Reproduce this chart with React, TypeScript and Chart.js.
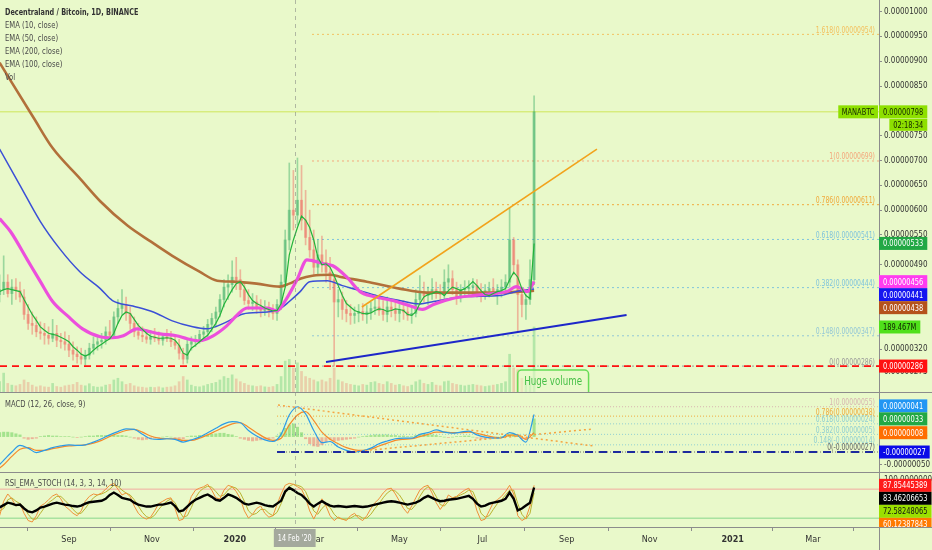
import React, { useEffect, useRef } from "react";
import { Chart, registerables } from "chart.js";

Chart.register(...registerables);

const FONT = "'DejaVu Sans Condensed', 'DejaVu Sans', 'Liberation Sans', sans-serif";
const BG = "#e9f9ca";
const SX = 0.8; // horizontal compression used for hand-drawn text (mimics a narrow UI font)

// ---------- text ----------
const TITLE = "Decentraland / Bitcoin, 1D, BINANCE";
const legendItems = ["EMA (10, close)", "EMA (50, close)", "EMA (200, close)", "EMA (100, close)", "Vol"];
const MACD_TITLE = "MACD (12, 26, close, 9)";
const RSI_TITLE = "RSI_EMA_STOCH (14, 3, 3, 14, 10)";
const SYMBOL = "MANABTC";
const COUNTDOWN = "02:18:34";
const ANNOTATION_TEXT = "Huge volume";

// ---------- time axis (days relative to 1 Sep 2019) ----------
const X_MIN = -50.7;
const X_MAX = 595.6;
const tickDays = [0, 61, 122, 182, 243, 304, 366, 427, 488, 547];
const tickLabels = ["Sep", "Nov", "2020", "Mar", "May", "Jul", "Sep", "Nov", "2021", "Mar"];
const crosshairDay = 166;
const crosshairLabel = "14 Feb '20";

// ---------- candles (satoshi), one every 3 days ----------
const CANDLE_START = -51;
const CANDLE_STEP = 3;
const cOpen = [
  430, 440, 455, 432, 445, 438, 425, 390, 372, 368, 355, 352,
  348, 342, 352, 338, 335, 330, 318, 310, 305, 300, 308, 322,
  330, 335, 338, 355, 348, 385, 402, 410, 392, 372, 355, 348,
  345, 340, 345, 342, 338, 345, 342, 335, 328, 312, 300, 330,
  335, 340, 350, 355, 370, 382, 395, 420, 445, 450, 465, 460,
  440, 418, 412, 415, 405, 398, 402, 395, 392, 410, 455, 540,
  600, 590, 620, 580, 545, 520, 485, 510, 495, 475, 460, 415,
  420, 400, 392, 388, 392, 396, 390, 395, 402, 405, 398, 390,
  405, 398, 392, 400, 395, 388, 392, 420, 435, 428, 432, 440,
  435, 430, 455, 462, 440, 425, 440, 442, 445, 448, 435, 430,
  438, 442, 435, 440, 445, 455, 540, 490, 430, 410, 420, 460,
];
const cHigh = [
  470, 508, 470, 460, 462, 455, 440, 410, 395, 385, 375, 372,
  365, 380, 368, 352, 355, 348, 335, 325, 322, 318, 332, 345,
  348, 352, 365, 378, 395, 420, 440, 425, 405, 385, 372, 365,
  360, 358, 362, 355, 352, 360, 356, 348, 340, 322, 340, 345,
  348, 358, 366, 380, 392, 405, 430, 460, 470, 498, 505, 480,
  455, 440, 432, 428, 420, 418, 415, 410, 420, 470, 560, 695,
  680, 705, 690, 640, 600, 560, 540, 548, 520, 505, 470, 440,
  435, 418, 410, 405, 410, 412, 408, 415, 430, 422, 418, 425,
  420, 415, 410, 418, 412, 405, 440, 468, 455, 445, 462, 455,
  450, 480, 490, 478, 455, 450, 458, 458, 462, 460, 452, 450,
  455, 462, 450, 460, 470, 604, 545, 500, 445, 430, 500, 830,
];
const cLow = [
  415, 430, 425, 410, 420, 415, 380, 360, 350, 345, 340, 330,
  330, 335, 325, 322, 318, 305, 298, 292, 290, 288, 300, 310,
  318, 322, 330, 340, 345, 372, 390, 378, 360, 345, 340, 335,
  332, 330, 335, 330, 328, 335, 325, 320, 300, 290, 292, 318,
  325, 332, 338, 345, 355, 365, 385, 405, 420, 435, 440, 425,
  410, 400, 398, 392, 385, 388, 385, 380, 378, 400, 445, 520,
  560, 570, 560, 530, 505, 470, 470, 475, 455, 440, 286, 385,
  380, 375, 370, 372, 375, 378, 372, 380, 390, 388, 378, 375,
  385, 378, 375, 380, 378, 372, 385, 410, 415, 410, 420, 422,
  418, 420, 440, 430, 410, 415, 425, 430, 428, 425, 415, 420,
  425, 428, 410, 425, 430, 445, 470, 355, 385, 380, 410, 450,
];
const cClose = [
  440, 455, 432, 445, 438, 425, 390, 372, 368, 355, 352, 348,
  342, 352, 338, 335, 330, 318, 310, 305, 300, 308, 322, 330,
  335, 338, 355, 348, 385, 402, 410, 392, 372, 355, 348, 345,
  340, 345, 342, 338, 345, 342, 335, 328, 312, 300, 330, 335,
  340, 350, 355, 370, 382, 395, 420, 445, 450, 465, 460, 440,
  418, 412, 415, 405, 398, 402, 395, 392, 410, 455, 540, 600,
  590, 620, 580, 545, 520, 485, 510, 495, 475, 460, 415, 420,
  400, 392, 388, 392, 396, 390, 395, 402, 405, 398, 390, 405,
  398, 392, 400, 395, 388, 392, 420, 435, 428, 432, 440, 435,
  430, 455, 462, 440, 425, 440, 442, 445, 448, 435, 430, 438,
  442, 435, 440, 445, 455, 540, 490, 430, 410, 420, 460, 798,
];
// volume in millions
const volumeM = [
  30, 55, 25, 20, 18, 22, 35, 28, 20, 15, 18, 15,
  14, 25, 16, 14, 18, 20, 22, 28, 20, 18, 24, 16,
  14, 15, 20, 22, 35, 40, 30, 22, 25, 18, 15, 14,
  12, 14, 13, 15, 12, 14, 15, 18, 30, 45, 35, 20,
  16, 15, 18, 22, 25, 28, 35, 45, 40, 50, 38, 30,
  25, 20, 18, 16, 18, 15, 14, 16, 22, 45, 90, 95,
  70, 85, 60, 45, 40, 35, 30, 35, 30, 40, 70, 35,
  30, 25, 22, 20, 18, 22, 20, 28, 30, 25, 22, 30,
  25, 20, 22, 18, 16, 20, 30, 35, 25, 22, 28, 20,
  18, 30, 32, 25, 22, 20, 18, 20, 22, 20, 18, 16,
  18, 20, 22, 25, 30, 110, 70, 65, 40, 30, 45, 189.467,
];
const ema10 = [
  436, 440, 442, 440, 438, 436, 420, 405, 390, 378, 365, 358,
  352, 350, 348, 344, 340, 335, 325, 318, 310, 306, 310, 318,
  325, 330, 336, 341, 352, 372, 388, 395, 392, 380, 368, 360,
  352, 346, 344, 342, 342, 343, 342, 338, 328, 312, 308, 322,
  328, 335, 342, 348, 360, 372, 388, 410, 425, 440, 452, 456,
  445, 430, 418, 412, 408, 403, 400, 397, 398, 412, 445, 510,
  540, 565, 588, 580, 565, 540, 505, 490, 492, 485, 468, 448,
  428, 412, 405, 398, 395, 392, 391, 393, 398, 401, 400, 396,
  398, 401, 400, 398, 390, 388, 395, 412, 425, 430, 432, 436,
  434, 428, 438, 445, 442, 438, 442, 448, 456, 448, 438, 430,
  428, 432, 436, 438, 442, 460, 475, 465, 442, 428, 422, 533,
];

const ema50Days = [-51, -43, -31, -21, -12, -1, 10, 23, 32, 40, 50, 57, 67, 79, 87, 96, 106, 116, 126, 131, 146, 153, 160, 168, 175, 187, 194, 204, 214, 224, 238, 251, 260, 268, 282, 297, 312, 322, 329, 337, 342];
const ema50 = [583, 557, 502, 456, 416, 387, 361, 345, 343, 347, 361, 357, 351, 347, 341, 337, 347, 367, 395, 403, 403, 397, 422, 462, 500, 492, 488, 466, 436, 426, 418, 407, 400, 410, 422, 428, 432, 436, 446, 436, 456];
const ema100Days = [-51, -36, -21, -7, 8, 23, 32, 47, 62, 76, 91, 101, 116, 128, 146, 155, 162, 170, 177, 190, 201, 214, 229, 243, 258, 268, 293, 317, 329, 342];
const ema100 = [723, 650, 577, 523, 476, 442, 418, 407, 395, 377, 365, 361, 375, 391, 395, 401, 416, 436, 456, 458, 448, 438, 426, 418, 411, 416, 426, 428, 436, 441];
const ema200Days = [-51, -26, -12, 8, 23, 43, 60, 76, 96, 109, 121, 138, 155, 162, 170, 179, 192, 199, 219, 243, 263, 293, 317, 342];
const ema200 = [897, 786, 725, 664, 618, 569, 537, 508, 476, 458, 456, 452, 446, 452, 462, 468, 470, 466, 456, 442, 434, 434, 434, 438];

// fibonacci retracement (price pane)
const fibLevels = [0, 0.148, 0.382, 0.618, 0.786, 1, 1.618];
const fibValues = [286, 347, 444, 541, 611, 699, 954];
const FIB_START_DAY = 178.7;
// drawn trend lines
const orangeTrendDays = [215.4, 388.2];
const orangeTrendVals = [405, 723];
const blueTrendDays = [189, 410];
const blueTrendVals = [294, 389];
const supportLevel = 286;
const priceTicks = [1000, 950, 900, 850, 750, 700, 650, 600, 550, 490, 320, 275];
const annotationDay = 356;
const annotationValue = 278;

// ---------- MACD (units of 1e-8) ----------
const MACD_START = -54;
const MACD_STEP = 6;
const macdLine = [
  -58, -42, -27, -15, -20, -28, -24, -19, -16, -14, -15, -14,
  -9, -3, 4, 10, 15, 14, 5, -3, -4, -3, -4, -9,
  -5, 0, 8, 16, 24, 28, 26, 12, 2, -5, -8, 5,
  40, 55, 42, 12, -10, -8, -18, -24, -27, -25, -20, -12,
  -7, -3, -2, -2, 5, 8, 13, 9, 7, 9, 11, 4,
  0, -2, -1, 8, 3, -9, 41,
];
const macdSignal = [
  -62, -50, -35, -22, -19, -24, -24, -21, -18, -16, -15, -14,
  -11, -6, 1, 7, 12, 14, 9, 2, -2, -3, -3, -6,
  -6, -2, 4, 11, 18, 24, 26, 18, 8, -1, -6, -2,
  22, 40, 46, 30, 9, -4, -12, -19, -23, -24, -22, -16,
  -11, -6, -4, -3, 1, 5, 9, 9, 8, 8, 9, 7,
  3, 0, -1, 3, 4, -4, 8,
];
// histogram on the candle grid
const macdHist = [
  8, 9, 9, 8, 6, 4, -2, -4, -3, -2, 1, 2,
  3, 2, 2, 1, 1, 1, 0, -1, 0, 1, 2, 2,
  3, 3, 3, 3, 4, 3, 3, 2, 0, -2, -4, -5,
  -4, -3, -2, -1, 0, 1, 0, -2, -4, -3, 1, 2,
  2, 3, 3, 4, 5, 6, 7, 7, 5, 4, 1, -2,
  -4, -6, -7, -6, -5, -4, -3, -2, 2, 8, 16, 22,
  24, 18, 8, -3, -12, -16, -17, -14, -8, -5, -7, -6,
  -5, -4, -3, -2, 0, 1, 2, 3, 4, 4, 4, 4,
  3, 3, 2, 2, 1, 1, 3, 4, 5, 4, 4, 3,
  1, 0, -1, 0, 1, 1, 2, 2, 0, -2, -3, -3,
  -2, -1, 0, 1, 3, 5, 6, 2, -3, -4, -1, 33,
];
const macdFibLevels = [0, 0.148, 0.382, 0.618, 0.786, 1];
const macdFibValues = [-27, -14, 5, 24, 38, 55];
const MACD_FIB_START_DAY = 153;
const macdDescDays = [153.7, 385.3];
const macdDescVals = [58, -16];
const macdAscDays = [206.6, 385.3];
const macdAscVals = [-27, 14.7];
const macdLevel = -27;
const macdTicks = [-50, 0];

// ---------- RSI / stochastic (candle grid) ----------
const rsiBlack = [
  42, 47, 52, 50, 47, 48, 40, 34, 32, 36, 42, 44,
  47, 50, 52, 50, 48, 47, 45, 44, 46, 50, 53, 54,
  55, 56, 60, 68, 73, 68, 62, 60, 58, 52, 48, 46,
  44, 44, 46, 48, 48, 50, 52, 45, 34, 36, 44, 52,
  58, 62, 66, 69, 64, 58, 56, 62, 69, 66, 62, 56,
  50, 48, 50, 52, 50, 47, 45, 44, 50, 56, 75, 83,
  78, 72, 68, 60, 50, 44, 50, 55, 50, 46, 44, 45,
  44, 43, 44, 45, 44, 43, 44, 46, 48, 50, 52, 54,
  55, 54, 52, 50, 48, 50, 52, 56, 62, 66, 62, 58,
  55, 56, 58, 59, 60, 62, 64, 66, 60, 50, 44, 46,
  50, 52, 54, 56, 60, 73, 60, 36, 40, 46, 52, 83.46206653,
];
const stochK = [
  25, 55, 70, 60, 45, 50, 30, 15, 12, 25, 45, 50,
  58, 66, 70, 60, 45, 38, 30, 25, 35, 55, 65, 70,
  68, 72, 80, 88, 92, 80, 68, 72, 65, 45, 30, 22,
  18, 22, 35, 50, 55, 60, 62, 40, 15, 18, 40, 65,
  78, 82, 85, 90, 78, 62, 60, 78, 88, 85, 75, 60,
  35, 20, 28, 40, 45, 30, 22, 25, 48, 70, 88, 92,
  90, 85, 80, 62, 35, 18, 35, 60, 45, 25, 15, 22,
  18, 15, 25, 30, 20, 15, 25, 40, 52, 60, 72, 80,
  82, 70, 55, 40, 30, 45, 62, 78, 85, 88, 72, 52,
  38, 50, 68, 62, 65, 72, 78, 82, 65, 35, 15, 18,
  35, 52, 58, 65, 75, 88, 70, 25, 15, 20, 45, 87.85445389,
];
const stochD = [
  35, 40, 58, 62, 55, 50, 42, 28, 18, 18, 30, 42,
  52, 58, 65, 65, 57, 48, 38, 30, 30, 40, 52, 62,
  68, 70, 74, 80, 88, 86, 78, 72, 68, 58, 45, 32,
  23, 20, 26, 38, 48, 55, 60, 52, 35, 22, 25, 42,
  62, 75, 82, 86, 84, 75, 65, 68, 78, 85, 82, 72,
  55, 35, 27, 30, 38, 38, 30, 25, 32, 50, 72, 86,
  90, 88, 85, 75, 55, 35, 28, 40, 48, 42, 28, 20,
  18, 18, 20, 25, 25, 20, 20, 28, 40, 50, 62, 72,
  78, 76, 68, 55, 40, 38, 48, 65, 78, 85, 80, 65,
  48, 45, 55, 62, 64, 68, 72, 78, 75, 55, 30, 22,
  25, 38, 50, 58, 68, 78, 78, 50, 28, 18, 30, 72.58248065,
];
const rsiExtraLast = 60.12387843;
const rsiUpper = 80;
const rsiLower = 20;
const rsiTicks = [100];

// ---------- scale ranges ----------
const PRICE_MIN = 233.8, PRICE_MAX = 1023.2;
const MACD_MIN = -63.2, MACD_MAX = 81.7;
const RSI_MIN = 1.66, RSI_MAX = 115.5;
const VOL_MIN = -393.5, VOL_MAX = 1142.5;
const PANE_WEIGHTS = [392, 80, 55];

// ---------- colours ----------
const C = {
  up: "rgba(38,166,91,0.40)",
  down: "rgba(239,83,80,0.40)",
  volUp: "rgba(60,190,90,0.30)",
  volDown: "rgba(235,90,80,0.26)",
  ema10: "#22b33a",
  ema50: "#ec4fdc",
  ema100: "#3b4fd6",
  ema200: "#b2703a",
  orangeTrend: "#f2a31b",
  blueTrend: "#1d27c9",
  support: "#ff1010",
  priceLine: "#cfe65a",
  macd: "#2b9be8",
  signal: "#f58a2a",
  histUp: "rgba(95,205,80,0.5)",
  histDown: "rgba(240,110,100,0.5)",
  macdDots: "#f5a440",
  macdLevel: "#1c2a9e",
  stochK: "#f0903a",
  stochD: "#b9b431",
  rsi: "#000000",
  rsiUpper: "#f2aaa0",
  rsiLower: "#a8e2a0",
  axis: "#8c8c8c",
  text: "#333333",
};
const fibColors = ["#9a9a9a", "#93c7d6", "#80c4dc", "#80c4dc", "#f0a93a", "#f4a77c", "#f3c15f"];
const macdFibColors = ["#666666", "#8fcfd2", "#8fcfd2", "#8fcfd2", "#f0a93a", "#d8b4b0"];

const last = (a: number[]) => a[a.length - 1];
const fmt8 = (v: number) => (v * 1e-8).toFixed(8);
const candleX = (i: number) => CANDLE_START + i * CANDLE_STEP;
const isUp = (i: number) => cClose[i] >= cOpen[i];
const onGrid = (vals: number[], start: number, step: number) => vals.map((v, i) => ({ x: start + i * step, y: v }));
const onDays = (days: number[], vals: number[]) => vals.map((v, i) => ({ x: days[i], y: v }));
const hline = (x0: number, x1: number, y: number) => [{ x: x0, y }, { x: x1, y }];

function line(label: string, yAxisID: string, data: any[], color: string, width: number, order: number, extra: any = {}) {
  return {
    type: "line", label, yAxisID, data, borderColor: color, backgroundColor: color,
    borderWidth: width, pointRadius: 0, fill: false, tension: 0, order, ...extra,
  };
}

// narrow text helper: returns drawn width
function tw(ctx: any, s: string, sx = SX) {
  return ctx.measureText(s).width * sx;
}
function ntext(ctx: any, s: string, x: number, y: number, align = "left", sx = SX) {
  const w = tw(ctx, s, sx);
  const x0 = align === "left" ? x : align === "center" ? x - w / 2 : x - w;
  ctx.save();
  ctx.translate(x0, y);
  ctx.scale(sx, 1);
  ctx.textAlign = "left";
  ctx.fillText(s, 0, 0);
  ctx.restore();
  return w;
}

const LABEL_H = 13;

function stackLabels(items: any[]) {
  items.sort((a, b) => a.y - b.y);
  let ai = items.findIndex((it) => it.anchor);
  if (ai < 0) ai = 0;
  for (let i = ai + 1; i < items.length; i++) {
    const prev = items[i - 1];
    const gap = LABEL_H + (prev.countdown ? LABEL_H : 0);
    if (items[i].y < prev.y + gap) items[i].y = prev.y + gap;
  }
  for (let i = ai - 1; i >= 0; i--) {
    if (items[i].y > items[i + 1].y - LABEL_H) items[i].y = items[i + 1].y - LABEL_H;
  }
}

function valueLabels() {
  return {
    y: [
      { axis: "y", value: last(cClose), text: fmt8(last(cClose)), bg: "#8ee000", fg: "#142600", anchor: true, name: SYMBOL, countdown: COUNTDOWN },
      { axis: "y", value: last(ema10), text: fmt8(last(ema10)), bg: "#22a845", fg: "#ffffff" },
      { axis: "y", value: last(ema50), text: fmt8(last(ema50)), bg: "#ff3cf0", fg: "#ffffff" },
      { axis: "y", value: last(ema100), text: fmt8(last(ema100)), bg: "#1515f0", fg: "#ffffff" },
      { axis: "y", value: last(ema200), text: fmt8(last(ema200)), bg: "#b5521c", fg: "#ffffff" },
      { axis: "vol", value: last(volumeM), text: last(volumeM).toFixed(3) + "M", bg: "#4fe01a", fg: "#102000" },
      { axis: "y", value: supportLevel, text: fmt8(supportLevel), bg: "#ff1010", fg: "#ffffff" },
    ],
    macd: [
      { axis: "macd", value: last(macdLine), text: fmt8(last(macdLine)), bg: "#2196f3", fg: "#ffffff" },
      { axis: "macd", value: last(macdHist), text: fmt8(last(macdHist)), bg: "#22a845", fg: "#ffffff", anchor: true },
      { axis: "macd", value: last(macdSignal), text: fmt8(last(macdSignal)), bg: "#ff6d00", fg: "#ffffff" },
      { axis: "macd", value: macdLevel, text: fmt8(macdLevel), bg: "#0a0ae8", fg: "#ffffff" },
    ],
    rsi: [
      { axis: "rsi", value: last(stochK), text: last(stochK).toFixed(8), bg: "#ff1a1a", fg: "#ffffff", anchor: true },
      { axis: "rsi", value: last(rsiBlack), text: last(rsiBlack).toFixed(8), bg: "#000000", fg: "#ffffff" },
      { axis: "rsi", value: last(stochD), text: last(stochD).toFixed(8), bg: "#9be000", fg: "#111111" },
      { axis: "rsi", value: rsiExtraLast, text: rsiExtraLast.toFixed(8), bg: "#ff7a00", fg: "#ffffff" },
    ],
  };
}

const overlay = {
  id: "overlay",
  beforeDraw(chart: any) {
    const ctx = chart.ctx;
    ctx.save();
    ctx.fillStyle = BG;
    ctx.fillRect(0, 0, chart.width, chart.height);
    ctx.restore();
  },
  afterDatasetsDraw(chart: any) {
    const ctx = chart.ctx;
    const { x: xs, y: ys, macd } = chart.scales;
    const right = chart.chartArea.right;
    ctx.save();
    // fib labels
    ctx.font = `8.5px ${FONT}`;
    ctx.textBaseline = "bottom";
    fibLevels.forEach((lv, i) => {
      ctx.fillStyle = fibColors[i];
      ntext(ctx, `${lv}(${fmt8(fibValues[i])})`, right - 4, ys.getPixelForValue(fibValues[i]) + 0.5, "right");
    });
    macdFibLevels.forEach((lv, i) => {
      ctx.fillStyle = macdFibColors[i];
      ntext(ctx, `${lv}(${fmt8(macdFibValues[i])})`, right - 4, macd.getPixelForValue(macdFibValues[i]) + 0.5, "right");
    });
    // annotation
    ctx.save();
    ctx.beginPath();
    ctx.rect(0, ys.top, chart.width, ys.bottom - ys.top);
    ctx.clip();
    ctx.font = `11.5px ${FONT}`;
    const w = tw(ctx, ANNOTATION_TEXT, 0.84) + 13;
    const cx = xs.getPixelForValue(annotationDay);
    const top = ys.getPixelForValue(annotationValue);
    ctx.beginPath();
    ctx.roundRect(cx - w / 2, top, w, 28, 4);
    ctx.fillStyle = "rgba(233,249,202,0.55)";
    ctx.fill();
    ctx.strokeStyle = "#66dd55";
    ctx.lineWidth = 1.5;
    ctx.stroke();
    ctx.fillStyle = "#45bf45";
    ctx.textBaseline = "middle";
    ntext(ctx, ANNOTATION_TEXT, cx, top + 12, "center", 0.84);
    ctx.restore();
    // crosshair
    const chx = Math.round(xs.getPixelForValue(crosshairDay)) + 0.5;
    ctx.strokeStyle = "rgba(120,120,120,0.5)";
    ctx.lineWidth = 1;
    ctx.setLineDash([4, 4]);
    ctx.beginPath();
    ctx.moveTo(chx, chart.chartArea.top);
    ctx.lineTo(chx, chart.chartArea.bottom);
    ctx.stroke();
    ctx.setLineDash([]);
    ctx.restore();
  },
  afterDraw(chart: any) {
    const ctx = chart.ctx;
    const { x: xs, macd, rsi } = chart.scales;
    const W = chart.width;
    const axisX = chart.chartArea.right;
    ctx.save();
    // separators and axis lines
    ctx.strokeStyle = C.axis;
    ctx.lineWidth = 1;
    [macd.top, rsi.top, chart.chartArea.bottom].forEach((y: number) => {
      const yy = Math.round(y) + 0.5;
      ctx.beginPath();
      ctx.moveTo(0, yy);
      ctx.lineTo(W, yy);
      ctx.stroke();
    });
    ctx.beginPath();
    ctx.moveTo(Math.round(axisX) + 0.5, 0);
    ctx.lineTo(Math.round(axisX) + 0.5, chart.height);
    ctx.stroke();

    // value labels on the price axis
    const groups: any = valueLabels();
    ctx.font = `9.5px ${FONT}`;
    ctx.textBaseline = "middle";
    const LSX = 0.78;
    for (const pane of ["y", "macd", "rsi"]) {
      const ps = chart.scales[pane];
      const items = groups[pane].map((l: any) => ({ ...l, y: chart.scales[l.axis].getPixelForValue(l.value) }));
      stackLabels(items);
      ctx.save();
      ctx.beginPath();
      ctx.rect(0, ps.top, W, ps.bottom - ps.top);
      ctx.clip();
      for (const it of items) {
        const w = tw(ctx, it.text, LSX) + 8;
        ctx.fillStyle = it.bg;
        ctx.fillRect(axisX, it.y - LABEL_H / 2, w, LABEL_H);
        ctx.fillStyle = it.fg;
        ntext(ctx, it.text, axisX + 4, it.y + 0.5, "left", LSX);
        if (it.name) {
          const nw = tw(ctx, it.name, LSX) + 7;
          ctx.fillStyle = it.bg;
          ctx.fillRect(axisX - nw - 1, it.y - LABEL_H / 2, nw, LABEL_H);
          ctx.fillStyle = it.fg;
          ntext(ctx, it.name, axisX - 1 - nw / 2, it.y + 0.5, "center", LSX);
        }
        if (it.countdown) {
          const cw = tw(ctx, it.countdown, LSX) + 8;
          ctx.fillStyle = it.bg;
          ctx.fillRect(axisX + w - cw, it.y + LABEL_H / 2 + 0.5, cw, LABEL_H - 1);
          ctx.fillStyle = it.fg;
          ntext(ctx, it.countdown, axisX + w - cw / 2, it.y + LABEL_H + 0.5, "center", LSX);
        }
      }
      ctx.restore();
    }

    // legends
    ctx.textBaseline = "middle";
    ctx.font = `bold 9.5px ${FONT}`;
    ctx.fillStyle = "#333333";
    ntext(ctx, TITLE, 5, 12.5, "left", 0.76);
    ctx.font = `9.5px ${FONT}`;
    ctx.fillStyle = "#4a4a4a";
    legendItems.forEach((t, i) => ntext(ctx, t, 5, 25.5 + i * 12.9));
    ntext(ctx, MACD_TITLE, 5, macd.top + 13);
    ntext(ctx, RSI_TITLE, 5, rsi.top + 12);

    // crosshair date label
    ctx.font = `9px ${FONT}`;
    const chx = xs.getPixelForValue(crosshairDay);
    const lw = tw(ctx, crosshairLabel) + 8;
    ctx.fillStyle = "#a4a99d";
    ctx.fillRect(chx - lw / 2, chart.chartArea.bottom + 2, lw, 18);
    ctx.fillStyle = "#ffffff";
    ntext(ctx, crosshairLabel, chx, chart.chartArea.bottom + 11.5, "center");
    ctx.restore();
  },
};

function yAxis(weight: number, min: number, max: number, ticks: number[], fmt: (v: number) => string) {
  return {
    type: "linear", position: "right", stack: "panes", stackWeight: weight, min, max, bounds: "data", offset: false,
    afterBuildTicks: (s: any) => { s.ticks = ticks.map((v) => ({ value: v })); },
    afterFit: (s: any) => { s.width = 53; s.paddingTop = 0; s.paddingBottom = 0; },
    ticks: { autoSkip: false, padding: 2, color: C.text, font: { family: FONT, size: 8 }, callback: (v: any) => fmt(Number(v)) },
    grid: { drawOnChartArea: false, drawTicks: true, tickLength: 3, color: C.axis },
    border: { display: true, color: C.axis },
  };
}

export default function App() {
  const ref = useRef<HTMLCanvasElement>(null);
  useEffect(() => {
    const canvas = ref.current;
    if (!canvas) return;
    Chart.defaults.font.family = FONT;

    const wickData = cHigh.map((h, i) => ({ x: candleX(i), y: [cLow[i], h] }));
    const bodyData = cClose.map((c, i) => ({ x: candleX(i), y: [Math.min(c, cOpen[i]), Math.max(c, cOpen[i])] }));
    const candleColors = cClose.map((_, i) => (isUp(i) ? C.up : C.down));

    const datasets: any[] = [
      ...fibValues.map((v, i) =>
        line("fib" + fibLevels[i], "y", hline(FIB_START_DAY, X_MAX, v), fibColors[i], 1, 60, { borderDash: [2, 3] })
      ),
      ...macdFibValues.map((v, i) =>
        line("mfib" + macdFibLevels[i], "macd", hline(MACD_FIB_START_DAY, X_MAX, v), macdFibColors[i], 1, 60, { borderDash: [1, 2] })
      ),
      line("price", "y", hline(X_MIN, X_MAX, last(cClose)), C.priceLine, 1, 58),
      line("rsiUpper", "rsi", hline(X_MIN, X_MAX, rsiUpper), C.rsiUpper, 1, 58),
      line("rsiLower", "rsi", hline(X_MIN, X_MAX, rsiLower), C.rsiLower, 1.5, 58),
      {
        type: "bar", label: "Vol", yAxisID: "vol", data: onGrid(volumeM, CANDLE_START, CANDLE_STEP),
        backgroundColor: volumeM.map((_, i) => (isUp(i) ? C.volUp : C.volDown)), barThickness: 2, grouped: false, order: 50,
      },
      { type: "bar", label: "wick", yAxisID: "y", data: wickData, backgroundColor: candleColors, barThickness: 1, grouped: false, order: 45 },
      { type: "bar", label: "body", yAxisID: "y", data: bodyData, backgroundColor: candleColors, barThickness: 2.4, grouped: false, order: 44 },
      line("EMA200", "y", onDays(ema200Days, ema200), C.ema200, 2.6, 20, { cubicInterpolationMode: "monotone" }),
      line("EMA100", "y", onDays(ema100Days, ema100), C.ema100, 1.5, 19, { cubicInterpolationMode: "monotone" }),
      line("EMA50", "y", onDays(ema50Days, ema50), C.ema50, 3.2, 18, { cubicInterpolationMode: "monotone" }),
      line("EMA10", "y", onGrid(ema10, CANDLE_START, CANDLE_STEP), C.ema10, 1.2, 17),
      line("support", "y", hline(X_MIN, X_MAX, supportLevel), C.support, 1.8, 16, { borderDash: [7, 5] }),
      line("orangeTrend", "y", onDays(orangeTrendDays, orangeTrendVals), C.orangeTrend, 1.6, 15),
      line("blueTrend", "y", onDays(blueTrendDays, blueTrendVals), C.blueTrend, 2, 15),
      {
        type: "bar", label: "hist", yAxisID: "macd", data: onGrid(macdHist, CANDLE_START, CANDLE_STEP),
        backgroundColor: macdHist.map((v) => (v >= 0 ? C.histUp : C.histDown)), barThickness: 2.4, grouped: false, order: 40,
      },
      line("signal", "macd", onGrid(macdSignal, MACD_START, MACD_STEP), C.signal, 1.2, 12, { cubicInterpolationMode: "monotone" }),
      line("macd", "macd", onGrid(macdLine, MACD_START, MACD_STEP), C.macd, 1.2, 11, { cubicInterpolationMode: "monotone" }),
      line("macdDesc", "macd", onDays(macdDescDays, macdDescVals), C.macdDots, 1.5, 10, { borderDash: [2, 3] }),
      line("macdAsc", "macd", onDays(macdAscDays, macdAscVals), C.macdDots, 1.5, 10, { borderDash: [2, 3] }),
      line("macdLevel", "macd", hline(MACD_FIB_START_DAY, X_MAX, macdLevel), C.macdLevel, 2, 9, { borderDash: [8, 6] }),
      line("stochD", "rsi", onGrid(stochD, CANDLE_START, CANDLE_STEP), C.stochD, 1, 8),
      line("stochK", "rsi", onGrid(stochK, CANDLE_START, CANDLE_STEP), C.stochK, 1, 7),
      line("rsi", "rsi", onGrid(rsiBlack, CANDLE_START, CANDLE_STEP), C.rsi, 2.4, 6),
    ];

    const chart = new Chart(canvas, {
      type: "bar",
      data: { datasets },
      plugins: [overlay],
      options: {
        responsive: false,
        maintainAspectRatio: false,
        devicePixelRatio: 1,
        animation: false,
        events: [],
        layout: { padding: 0 },
        plugins: { legend: { display: false }, tooltip: { enabled: false } },
        scales: {
          x: {
            type: "linear", position: "bottom", min: X_MIN, max: X_MAX, offset: false, bounds: "data",
            afterBuildTicks: (s: any) => { s.ticks = tickDays.map((v) => ({ value: v })); },
            afterFit: (s: any) => { s.height = 23; s.paddingLeft = 0; s.paddingRight = 0; },
            ticks: {
              autoSkip: false, maxRotation: 0, padding: 3, color: C.text,
              font: (ctx: any) => ({ family: FONT, size: 9, weight: ctx.tick && /^\d{4}$/.test(String(ctx.tick.label)) ? "bold" : "normal" }),
              callback: (v: any) => { const i = tickDays.indexOf(Number(v)); return i >= 0 ? tickLabels[i] : ""; },
            },
            grid: { drawOnChartArea: false, drawTicks: true, tickLength: 4, color: C.axis },
            border: { display: true, color: C.axis },
          },
          y: yAxis(PANE_WEIGHTS[0], PRICE_MIN, PRICE_MAX, priceTicks, fmt8),
          macd: yAxis(PANE_WEIGHTS[1], MACD_MIN, MACD_MAX, macdTicks, fmt8),
          rsi: yAxis(PANE_WEIGHTS[2], RSI_MIN, RSI_MAX, rsiTicks, (v) => v.toFixed(8)),
          vol: { type: "linear", position: "right", display: false, min: VOL_MIN, max: VOL_MAX },
        },
      } as any,
    } as any);
    return () => chart.destroy();
  }, []);

  return (
    <div style={{ position: "fixed", left: 0, top: 0, width: 932, height: 550, background: BG }}>
      <canvas ref={ref} width={932} height={550} style={{ display: "block", width: 932, height: 550 }} />
    </div>
  );
}
